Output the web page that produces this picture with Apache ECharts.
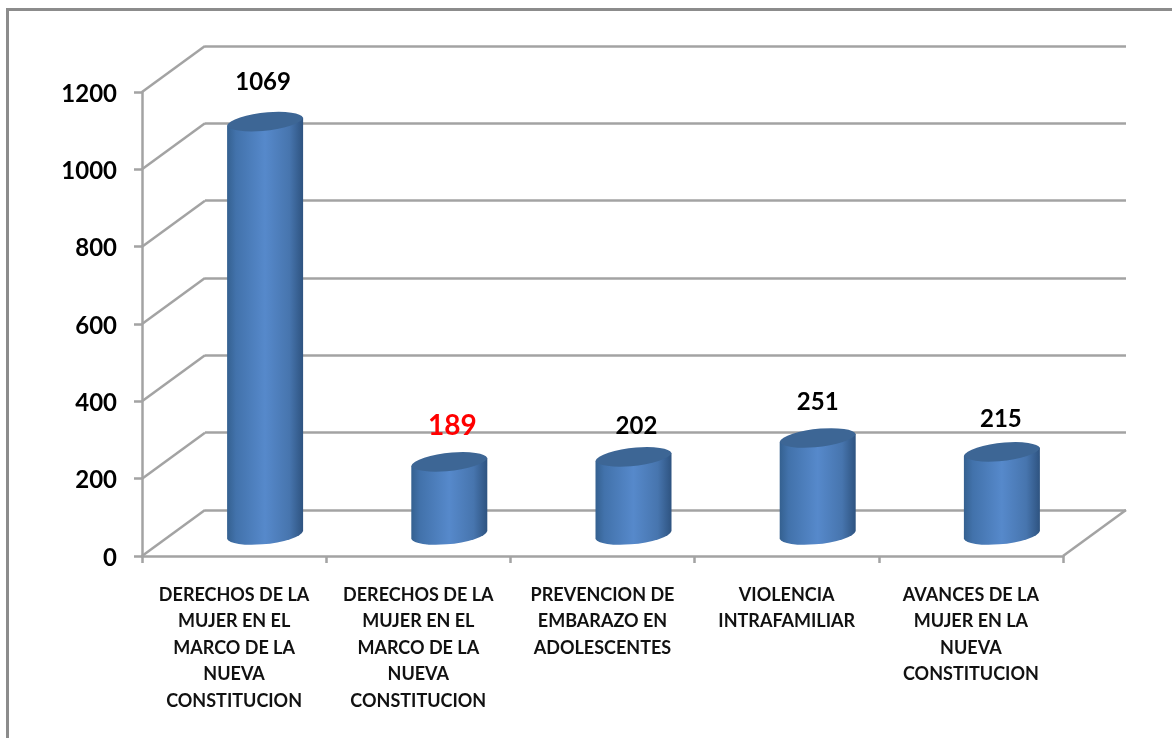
<!DOCTYPE html>
<html>
<head>
<meta charset="utf-8">
<style>
  html, body { margin: 0; padding: 0; background: #fff; }
  #main { width: 1172px; height: 738px; }
</style>
</head>
<body>
<div id="main"></div>
<script src="https://cdn.jsdelivr.net/npm/echarts@6/dist/echarts.min.js"></script>
<script>
const categories = [
  'DERECHOS DE LA\nMUJER EN EL\nMARCO DE LA\nNUEVA\nCONSTITUCION',
  'DERECHOS DE LA\nMUJER EN EL\nMARCO DE LA\nNUEVA\nCONSTITUCION',
  'PREVENCION DE\nEMBARAZO EN\nADOLESCENTES',
  'VIOLENCIA\nINTRAFAMILIAR',
  'AVANCES DE LA\nMUJER EN LA\nNUEVA\nCONSTITUCION'
];
const values = [1069, 189, 202, 251, 215];
const yTicks = [0, 200, 400, 600, 800, 1000, 1200];

// data labels were moved by hand in the original, so each one has its own nudge
const labelNudge = [[-2, -60], [3, -57], [3, -52], [0, -57], [-1, -54]];
const labelColors = ['#000', '#ff0000', '#000', '#000', '#000'];
const labelSizes = [24, 28, 24, 24, 24];

const FONT = 'Lato, "Open Sans", sans-serif';
const DEPTH_X = 63;
const DEPTH_Y = -46;
const LABEL_DROP = 2; // tick labels sit a little under their ticks
const GRID_COLOR = '#a3a3a3';
const BAR_HALF = 38;
const BAR_SHIFT_X = 31;
const BAR_SHIFT_Y = -21;
const ELLIPSE_RY = 10;
const ELLIPSE_TILT = 4;

const chart = echarts.init(document.getElementById('main'));

function renderWalls(params, api) {
  const sys = params.coordSys;
  const p = api.coord([0, api.value(1)]);
  const lineStyle = { stroke: GRID_COLOR, lineWidth: 2.5, fill: null };
  const children = [{
    type: 'line',
    shape: { x1: sys.x, y1: p[1], x2: sys.x + DEPTH_X, y2: p[1] + DEPTH_Y },
    style: lineStyle
  }];
  if (api.value(1) === 0) {
    children.push({
      type: 'line',
      shape: { x1: sys.x + sys.width, y1: p[1], x2: sys.x + sys.width + DEPTH_X, y2: p[1] + DEPTH_Y },
      style: lineStyle
    });
  }
  return { type: 'group', children: children };
}

function renderCylinder(params, api) {
  const i = params.dataIndex;
  const top = api.coord([i, api.value(1)]);
  const base = api.coord([i, 0]);
  const cx = top[0] + BAR_SHIFT_X;
  const topY = top[1] + BAR_SHIFT_Y;
  const baseY = base[1] + BAR_SHIFT_Y;
  const l = cx - BAR_HALF;
  const r = cx + BAR_HALF;
  const rot = -Math.atan2(ELLIPSE_TILT, BAR_HALF) * 180 / Math.PI;
  const rx = BAR_HALF * 1.01;
  const arc = (x, y, sweep) => `A ${rx} ${ELLIPSE_RY} ${rot} 0 ${sweep} ${x} ${y}`;
  const body = `M ${l} ${topY + ELLIPSE_TILT} L ${r} ${topY - ELLIPSE_TILT} L ${r} ${baseY - ELLIPSE_TILT} `
    + arc(l, baseY + ELLIPSE_TILT, 1) + ' Z';
  const cap = `M ${l} ${topY + ELLIPSE_TILT} ` + arc(r, topY - ELLIPSE_TILT, 1) + ' '
    + arc(l, topY + ELLIPSE_TILT, 1) + ' Z';
  return {
    type: 'group',
    children: [
      {
        type: 'path',
        shape: { pathData: body },
        style: {
          fill: new echarts.graphic.LinearGradient(0, 0, 1, 0, [
            { offset: 0, color: '#34608f' },
            { offset: 0.12, color: '#4272ab' },
            { offset: 0.5, color: '#5689cb' },
            { offset: 0.82, color: '#4775ae' },
            { offset: 1, color: '#2e5380' }
          ])
        }
      },
      {
        type: 'path',
        shape: { pathData: cap },
        style: { fill: '#3d6695' }
      },
      {
        type: 'text',
        style: {
          x: cx + labelNudge[i][0],
          y: top[1] + labelNudge[i][1],
          text: String(api.value(1)),
          align: 'center',
          verticalAlign: 'middle',
          fill: labelColors[i],
          font: `bold ${labelSizes[i]}px ${FONT}`
        }
      }
    ]
  };
}

chart.setOption({
  animation: false,
  backgroundColor: '#fff',
  tooltip: { show: false },
  graphic: [
    { type: 'line', shape: { x1: 7, y1: 9.5, x2: 1172, y2: 9.5 }, style: { stroke: '#8c8c8c', lineWidth: 3 } },
    { type: 'line', shape: { x1: 7.5, y1: 8, x2: 7.5, y2: 738 }, style: { stroke: '#8c8c8c', lineWidth: 3 } }
  ],
  grid: [
    { left: 142, right: 109, top: 92, bottom: 182 },
    { left: 142 + DEPTH_X, right: 109 - DEPTH_X, top: 92 + DEPTH_Y, bottom: 182 - DEPTH_Y },
    { left: 142, right: 109, top: 92 + LABEL_DROP, bottom: 182 - LABEL_DROP }
  ],
  xAxis: [
    {
      type: 'category',
      gridIndex: 0,
      data: categories,
      axisLine: { lineStyle: { color: GRID_COLOR, width: 2.5 } },
      axisTick: { show: true, length: 7, lineStyle: { color: GRID_COLOR, width: 2.5 } },
      axisLabel: {
        interval: 0,
        margin: 26,
        color: '#111',
        fontFamily: FONT,
        fontWeight: 'bold',
        fontSize: 18,
        lineHeight: 26.4
      }
    },
    { type: 'category', gridIndex: 1, data: categories, show: false },
    { type: 'category', gridIndex: 2, data: categories, show: false }
  ],
  yAxis: [
    {
      type: 'value',
      gridIndex: 0,
      min: 0,
      max: 1200,
      interval: 200,
      axisLine: { show: true, lineStyle: { color: GRID_COLOR, width: 2.5 } },
      axisTick: { show: true, length: 8, lineStyle: { color: GRID_COLOR, width: 2.5 } },
      splitLine: { show: false },
      axisLabel: { show: false }
    },
    {
      type: 'value',
      gridIndex: 1,
      min: 0,
      max: 1200,
      interval: 200,
      axisLine: { show: false },
      axisTick: { show: false },
      axisLabel: { show: false },
      splitLine: { show: true, lineStyle: { color: GRID_COLOR, width: 2.5 } }
    },
    {
      type: 'value',
      gridIndex: 2,
      min: 0,
      max: 1200,
      interval: 200,
      axisLine: { show: false },
      axisTick: { show: false },
      splitLine: { show: false },
      axisLabel: {
        margin: 25,
        color: '#000',
        fontFamily: FONT,
        fontWeight: 'bold',
        fontSize: 24,
        formatter: v => String(v)
      }
    }
  ],
  series: [
    {
      type: 'custom',
      xAxisIndex: 0,
      yAxisIndex: 0,
      clip: false,
      silent: true,
      z: 1,
      renderItem: renderWalls,
      encode: { x: 0, y: 1 },
      data: yTicks.map(t => [0, t])
    },
    {
      type: 'custom',
      xAxisIndex: 0,
      yAxisIndex: 0,
      clip: false,
      silent: true,
      z: 5,
      renderItem: renderCylinder,
      encode: { x: 0, y: 1 },
      data: values.map((v, i) => [i, v])
    }
  ]
});
</script>
</body>
</html>
